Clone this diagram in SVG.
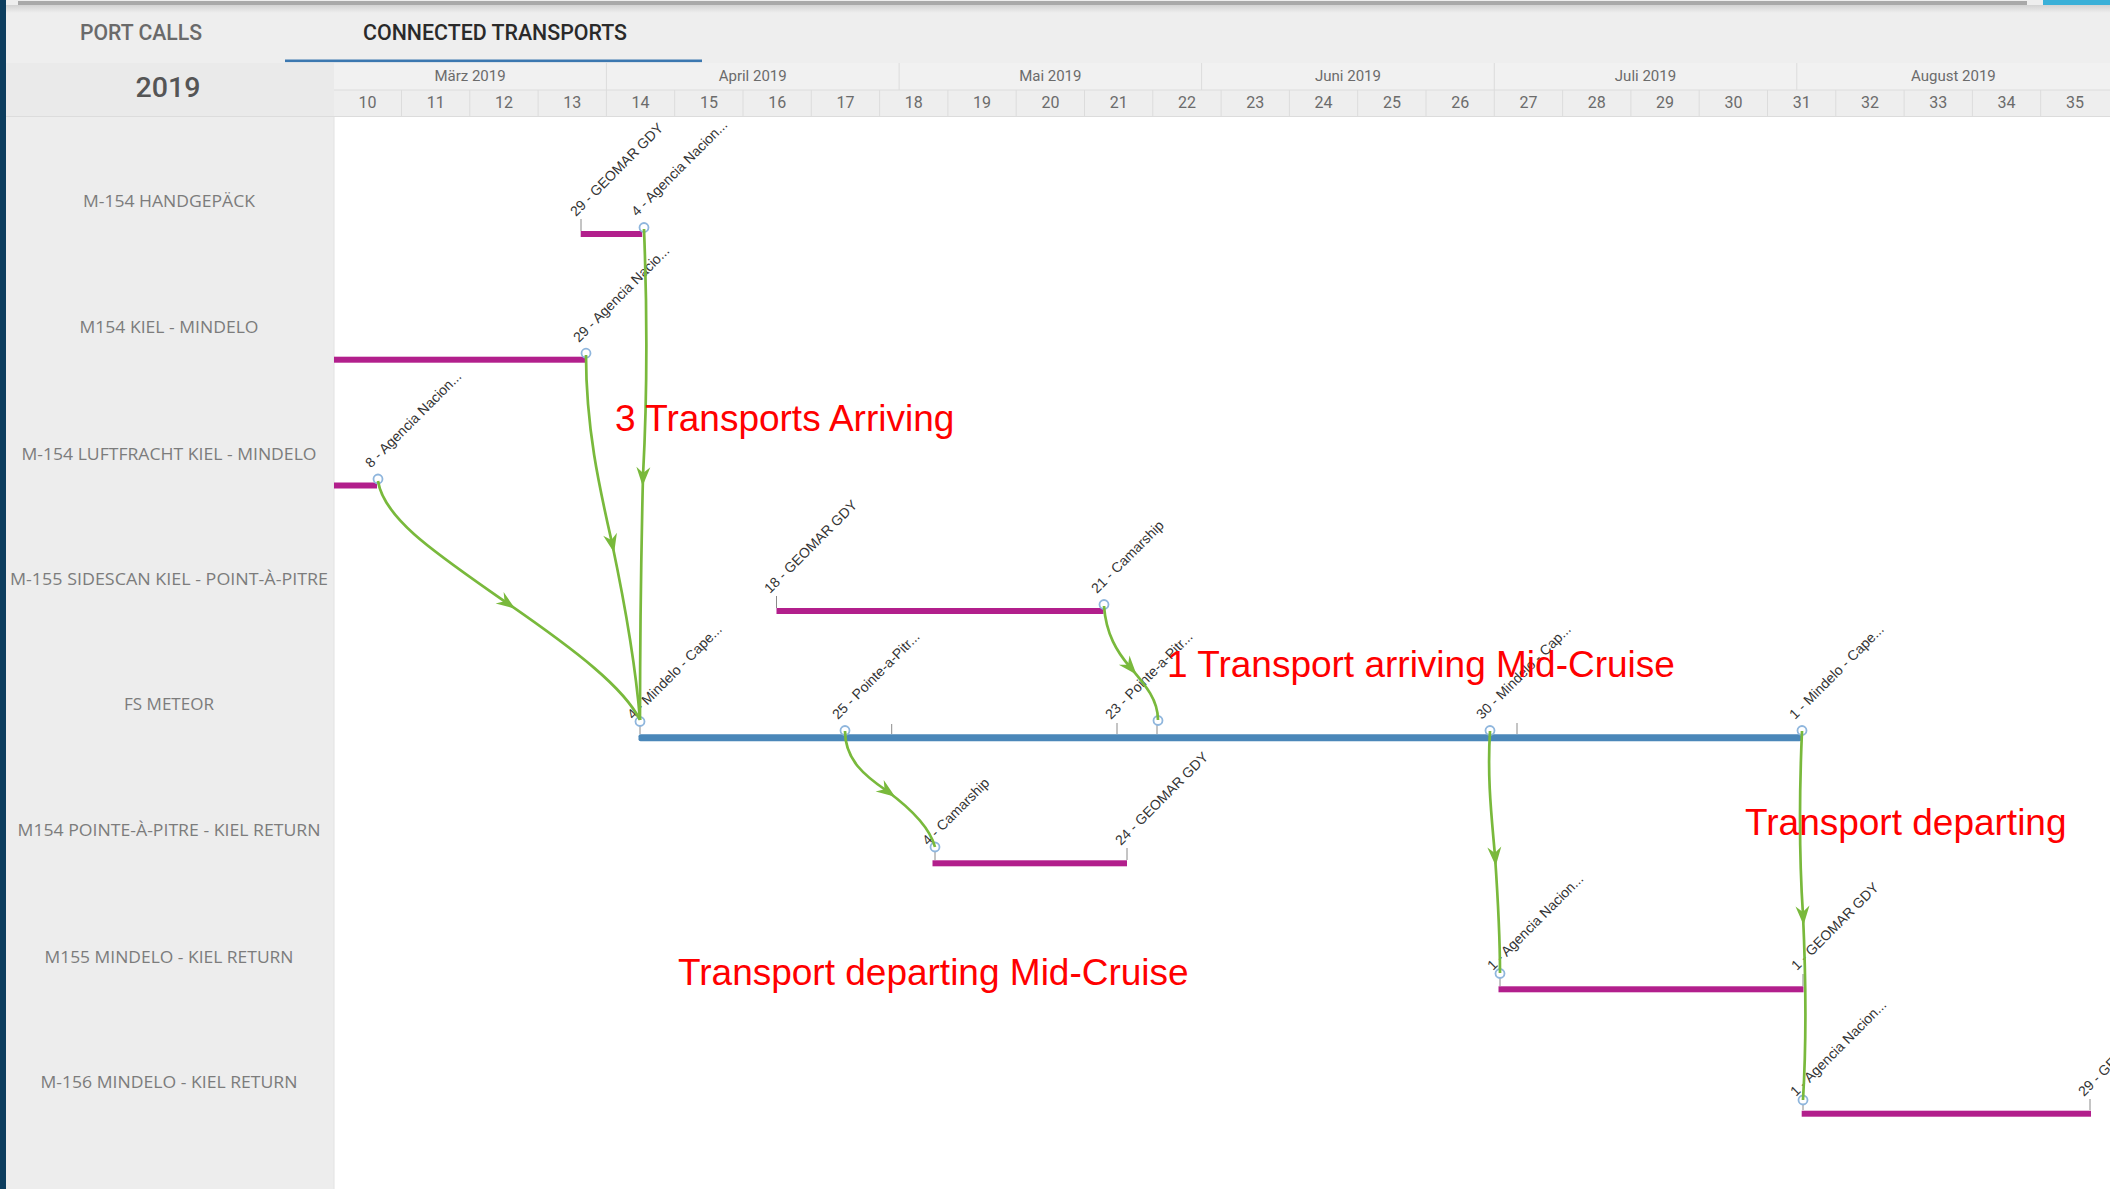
<svg xmlns="http://www.w3.org/2000/svg" width="2110" height="1189" viewBox="0 0 2110 1189">
<defs>
<style>
.hdr{font-family:Roboto,"Liberation Sans",sans-serif}
.tab{font-size:22px;fill:#6a6a6a;text-anchor:middle;font-weight:500}
.tab-on{fill:#2a2a2a}
.year{font-size:28px;fill:#555555;text-anchor:middle;font-weight:500}
.month{font-size:15px;fill:#6b6b6b;text-anchor:middle}
.week{font-size:16px;fill:#6b6b6b;text-anchor:middle}
.rowlabel{font-family:"Open Sans","Liberation Sans",sans-serif;font-size:17px;fill:#7c7c7c;text-anchor:middle}
.bar{fill:#b21f8c}
.ship{fill:#4a87b9}
.tick{stroke:#8a8a8a;stroke-width:1}
.pt{fill:#ffffff;fill-opacity:0.35;stroke:#8fb6dd;stroke-width:1.8}
.plabel{font-family:"Liberation Sans",Arial,sans-serif;font-size:14px;fill:#333333}
.conn{fill:none;stroke:#79b93c;stroke-width:2.7;marker-mid:url(#arrow)}
.note{font-family:"Liberation Sans",Arial,sans-serif;font-size:37px;fill:#ff0000}
.sep{stroke:#dcdcdc;stroke-width:1;fill:none}
</style>
<marker id="arrow" markerUnits="userSpaceOnUse" orient="auto" viewBox="-14 -14 28 28" markerWidth="28" markerHeight="28" refX="0" refY="0">
<path d="M10,0 L-9,-7 L-3,0 L-9,7 Z" fill="#79b93c"/>
</marker>
<linearGradient id="shadow" x1="0" y1="0" x2="0" y2="1">
<stop offset="0" stop-color="#d2d2d2"/>
<stop offset="1" stop-color="#eeeeee"/>
</linearGradient>
</defs>

<!-- background -->
<rect x="0" y="0" width="2110" height="1189" fill="#ffffff"/>

<!-- header -->
<g id="header" class="hdr">
<rect x="0" y="0" width="2110" height="63" fill="#eeeeee"/>
<rect x="6" y="5" width="2104" height="8" fill="url(#shadow)"/>
<rect x="18" y="1" width="2009" height="4" fill="#a9a9a9"/>
<rect x="2043" y="0" width="67" height="5" fill="#3ab0d8"/>
<text class="tab" x="141" y="40" textLength="122" lengthAdjust="spacingAndGlyphs">PORT CALLS</text>
<text class="tab tab-on" x="495" y="40" textLength="264" lengthAdjust="spacingAndGlyphs">CONNECTED TRANSPORTS</text>
<rect x="285" y="59.5" width="417" height="2.6" fill="#3c78b0"/>
<rect x="6" y="63" width="328" height="53" fill="#eaeaea"/>
<rect x="334" y="63" width="1776" height="27" fill="#f1f1f1"/>
<rect x="334" y="90" width="1776" height="26" fill="#eeeeee"/>
<text class="year" x="168" y="97" textLength="65" lengthAdjust="spacingAndGlyphs">2019</text>
<path class="sep" d="M334,90 H2110 M0,116.5 H2110 M606.4,63 V90 M899.1,63 V90 M1201.6,63 V90 M1494.3,63 V90 M1796.8,63 V90"/>
<path class="sep" d="M401.5,90 V116 M469.8,90 V116 M538.1,90 V116 M606.4,90 V116 M674.7,90 V116 M743,90 V116 M811.3,90 V116 M879.6,90 V116 M947.9,90 V116 M1016.2,90 V116 M1084.5,90 V116 M1152.8,90 V116 M1221.1,90 V116 M1289.4,90 V116 M1357.7,90 V116 M1426,90 V116 M1494.3,90 V116 M1562.6,90 V116 M1630.9,90 V116 M1699.2,90 V116 M1767.5,90 V116 M1835.8,90 V116 M1904.1,90 V116 M1972.4,90 V116 M2040.7,90 V116"/>
<text class="month" x="470" y="80.5">März 2019</text>
<text class="month" x="752.7" y="80.5">April 2019</text>
<text class="month" x="1050.3" y="80.5">Mai 2019</text>
<text class="month" x="1348" y="80.5">Juni 2019</text>
<text class="month" x="1645.5" y="80.5">Juli 2019</text>
<text class="month" x="1953.4" y="80.5">August 2019</text>
<text class="week" x="367.4" y="107.5">10</text>
<text class="week" x="435.7" y="107.5">11</text>
<text class="week" x="504" y="107.5">12</text>
<text class="week" x="572.3" y="107.5">13</text>
<text class="week" x="640.6" y="107.5">14</text>
<text class="week" x="708.9" y="107.5">15</text>
<text class="week" x="777.2" y="107.5">16</text>
<text class="week" x="845.5" y="107.5">17</text>
<text class="week" x="913.8" y="107.5">18</text>
<text class="week" x="982.1" y="107.5">19</text>
<text class="week" x="1050.4" y="107.5">20</text>
<text class="week" x="1118.7" y="107.5">21</text>
<text class="week" x="1187" y="107.5">22</text>
<text class="week" x="1255.3" y="107.5">23</text>
<text class="week" x="1323.6" y="107.5">24</text>
<text class="week" x="1391.9" y="107.5">25</text>
<text class="week" x="1460.2" y="107.5">26</text>
<text class="week" x="1528.5" y="107.5">27</text>
<text class="week" x="1596.8" y="107.5">28</text>
<text class="week" x="1665.1" y="107.5">29</text>
<text class="week" x="1733.4" y="107.5">30</text>
<text class="week" x="1801.7" y="107.5">31</text>
<text class="week" x="1870" y="107.5">32</text>
<text class="week" x="1938.3" y="107.5">33</text>
<text class="week" x="2006.6" y="107.5">34</text>
<text class="week" x="2074.9" y="107.5">35</text>
</g>

<!-- left panel -->
<rect x="6" y="117" width="328" height="1072" fill="#ededed"/>
<line x1="334" y1="117" x2="334" y2="1189" stroke="#e2e2e2" stroke-width="1"/>
<rect x="0" y="0" width="6" height="1189" fill="#0c3d5e"/>

<!-- rows -->
<g id="row-m154-handgepaeck">
<text class="rowlabel" x="169" y="206.5" textLength="172" lengthAdjust="spacingAndGlyphs">M-154 HANDGEPÄCK</text>
<rect class="bar" x="580.7" y="231" width="61.5" height="6"/>
<line class="tick" x1="581" y1="231" x2="581" y2="219"/>
<circle class="pt" cx="644" cy="227.5" r="4.5"/>
<text class="plabel" transform="translate(576,217) rotate(-45)">29 - GEOMAR GDY</text>
<text class="plabel" transform="translate(637,217) rotate(-45)">4 - Agencia Nacion...</text>
</g>

<g id="row-m154-kiel-mindelo">
<text class="rowlabel" x="169" y="333" textLength="179" lengthAdjust="spacingAndGlyphs">M154 KIEL - MINDELO</text>
<rect class="bar" x="334" y="356.7" width="252" height="6"/>
<circle class="pt" cx="586" cy="353.2" r="4.5"/>
<text class="plabel" transform="translate(579,343) rotate(-45)">29 - Agencia Nacio...</text>
</g>

<g id="row-m154-luftfracht">
<text class="rowlabel" x="169" y="459.5" textLength="295" lengthAdjust="spacingAndGlyphs">M-154 LUFTFRACHT KIEL - MINDELO</text>
<rect class="bar" x="334" y="482.5" width="43" height="6"/>
<circle class="pt" cx="378" cy="479" r="4.5"/>
<text class="plabel" transform="translate(371,468.5) rotate(-45)">8 - Agencia Nacion...</text>
</g>

<g id="row-m155-sidescan">
<text class="rowlabel" x="169" y="584.6" textLength="318" lengthAdjust="spacingAndGlyphs">M-155 SIDESCAN KIEL - POINT-À-PITRE</text>
<rect class="bar" x="776.5" y="608" width="327" height="6"/>
<line class="tick" x1="776.5" y1="608" x2="776.5" y2="596"/>
<circle class="pt" cx="1104" cy="604.5" r="4.5"/>
<text class="plabel" transform="translate(770,594) rotate(-45)">18 - GEOMAR GDY</text>
<text class="plabel" transform="translate(1097,594) rotate(-45)">21 - Camarship</text>
</g>

<g id="row-fs-meteor">
<text class="rowlabel" x="169" y="709.8" textLength="90" lengthAdjust="spacingAndGlyphs">FS METEOR</text>
<rect class="ship" x="638.5" y="734.2" width="1163" height="7" rx="2"/>
<line class="tick" x1="640" y1="734" x2="640" y2="726"/>
<line class="tick" x1="891.7" y1="734" x2="891.7" y2="724"/>
<line class="tick" x1="1117" y1="734" x2="1117" y2="723"/>
<line class="tick" x1="1157" y1="734" x2="1157" y2="725"/>
<line class="tick" x1="1517" y1="734" x2="1517" y2="723"/>
<circle class="pt" cx="640" cy="721.5" r="4.5"/>
<circle class="pt" cx="845" cy="730.5" r="4.5"/>
<circle class="pt" cx="1158" cy="720.5" r="4.5"/>
<circle class="pt" cx="1490" cy="730.5" r="4.5"/>
<circle class="pt" cx="1802" cy="730.5" r="4.5"/>
<text class="plabel" transform="translate(633,720) rotate(-45)">4 - Mindelo - Cape...</text>
<text class="plabel" transform="translate(838,720) rotate(-45)">25 - Pointe-a-Pitr...</text>
<text class="plabel" transform="translate(1111,720) rotate(-45)">23 - Pointe-a-Pitr...</text>
<text class="plabel" transform="translate(1482,720) rotate(-45)">30 - Mindelo - Cap...</text>
<text class="plabel" transform="translate(1795,720) rotate(-45)">1 - Mindelo - Cape...</text>
</g>

<g id="row-m154-pointe-kiel">
<text class="rowlabel" x="169" y="836.3" textLength="303" lengthAdjust="spacingAndGlyphs">M154 POINTE-À-PITRE - KIEL RETURN</text>
<rect class="bar" x="932.5" y="860.3" width="194.5" height="6"/>
<line class="tick" x1="935" y1="860" x2="935" y2="851"/>
<line class="tick" x1="1127" y1="860" x2="1127" y2="848"/>
<circle class="pt" cx="935" cy="847" r="4.5"/>
<text class="plabel" transform="translate(928,846) rotate(-45)">4 - Camarship</text>
<text class="plabel" transform="translate(1121,846) rotate(-45)">24 - GEOMAR GDY</text>
</g>

<g id="row-m155-mindelo-kiel">
<text class="rowlabel" x="169" y="962.8" textLength="249" lengthAdjust="spacingAndGlyphs">M155 MINDELO - KIEL RETURN</text>
<rect class="bar" x="1498.5" y="986.3" width="305" height="6"/>
<line class="tick" x1="1500" y1="986" x2="1500" y2="978"/>
<line class="tick" x1="1803" y1="986" x2="1803" y2="974"/>
<circle class="pt" cx="1500" cy="973.5" r="4.5"/>
<text class="plabel" transform="translate(1493,971) rotate(-45)">1 - Agencia Nacion...</text>
<text class="plabel" transform="translate(1797,971) rotate(-45)">1 - GEOMAR GDY</text>
</g>

<g id="row-m156-mindelo-kiel">
<text class="rowlabel" x="169" y="1088" textLength="257" lengthAdjust="spacingAndGlyphs">M-156 MINDELO - KIEL RETURN</text>
<rect class="bar" x="1801.7" y="1110.7" width="289.3" height="6"/>
<line class="tick" x1="1803" y1="1110" x2="1803" y2="1104"/>
<line class="tick" x1="2090" y1="1110" x2="2090" y2="1099"/>
<circle class="pt" cx="1803" cy="1100" r="4.5"/>
<text class="plabel" transform="translate(1796,1097) rotate(-45)">1 - Agencia Nacion...</text>
<text class="plabel" transform="translate(2084,1097) rotate(-45)">29 - GEOMAR GDY</text>
</g>

<!-- connectors -->
<g id="connectors">
<path class="conn" d="M644,229 C648,330 646,420 643,476 C641,560 640,650 640,720"/>
<path class="conn" d="M586,355 C586,430 600,490 612,543 C624,600 636,670 640,720"/>
<path class="conn" d="M378,481 C384,520 440,556 507,603 C578,652 624,688 640,720"/>
<path class="conn" d="M1104,606 C1106,634 1117,652 1130,667 C1146,686 1158,700 1158,720"/>
<path class="conn" d="M845,731 C845,760 865,776 887,791 C910,808 930,828 935,847"/>
<path class="conn" d="M1490,731 C1487,780 1492,820 1495,856 C1498,900 1500,940 1500,973"/>
<path class="conn" d="M1802,731 C1799,800 1800,870 1803,915 C1806,980 1806,1050 1803,1100"/>
</g>

<!-- annotations -->
<g id="annotations">
<text class="note" x="615" y="431">3 Transports Arriving</text>
<text class="note" x="1167" y="677">1 Transport arriving Mid-Cruise</text>
<text class="note" x="1745" y="835">Transport departing</text>
<text class="note" x="678" y="984.5">Transport departing Mid-Cruise</text>
</g>
</svg>
